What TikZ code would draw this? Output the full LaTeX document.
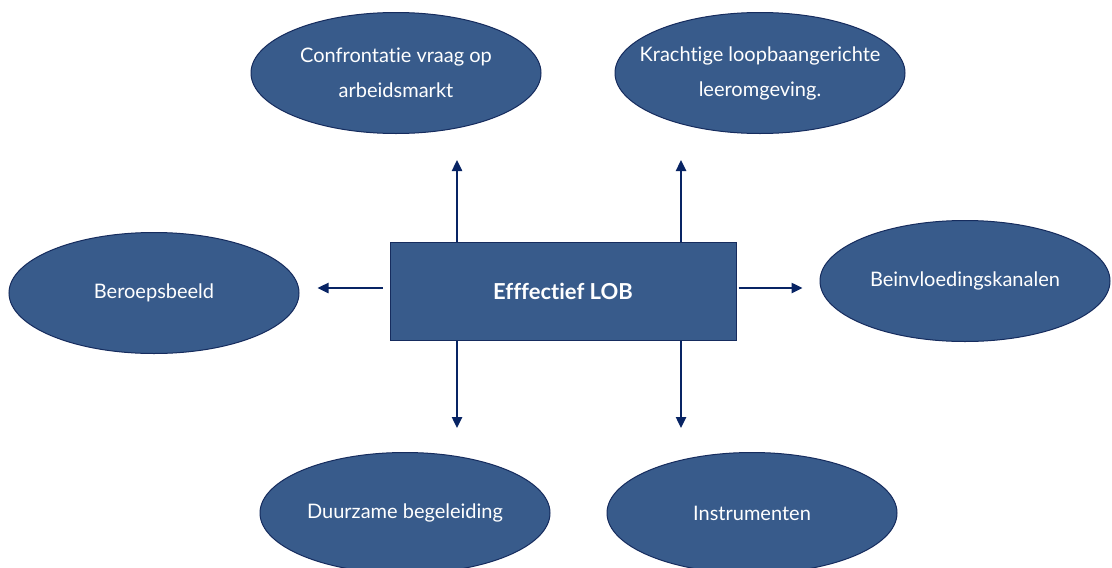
\documentclass[tikz,border=0pt]{standalone}
\usepackage{fontspec}
\setmainfont{Lato}[Ligatures=NoCommon]
\usetikzlibrary{shapes.geometric,arrows.meta}
\definecolor{lobfill}{RGB}{56,91,139}
\definecolor{lobedge}{RGB}{22,44,94}
\definecolor{lobarrow}{RGB}{8,36,100}
\tikzset{
  bubble/.style={ellipse, draw=lobedge, line width=1pt, fill=lobfill,
    minimum width=290pt, minimum height=121pt, inner ysep=0pt, inner xsep=-30pt,
    text=white, font=\fontsize{20}{35}\selectfont, align=center},
  arr/.style={draw=lobarrow, line width=2.4pt,
    -{Triangle[length=11pt,width=10pt]}}
}
\begin{document}
\begin{tikzpicture}[x=1pt,y=-1pt]
  \clip (0,0) rectangle (1112,568);
  \fill[white] (0,0) rectangle (1112,568);

  % Centre box
  \node[draw=lobedge, line width=1pt, fill=lobfill, minimum width=346pt,
    minimum height=98pt, text=white, font=\fontsize{22}{26}\selectfont\bfseries]
    (box) at (563,291) {Efffectief LOB};

  % Surrounding ellipses
  \node[bubble] (tl) at (396,73) {Confrontatie vraag op\\arbeidsmarkt};
  \node[bubble] (tr) at (760,73) {Krachtige loopbaangerichte\\leeromgeving.};
  \node[bubble] (l) at (154,293) {Beroepsbeeld};
  \node[bubble] (r) at (965,281) {Beinvloedingskanalen};
  \node[bubble] (bl) at (405,513) {Duurzame begeleiding};
  \node[bubble] (br) at (752,513) {Instrumenten};

  % Arrows
  \draw[arr, shorten >=26pt] (box.north -| 457,0) -- (tl.south -| 457,0);
  \draw[arr, shorten >=26pt] (box.north -| 681,0) -- (tr.south -| 681,0);
  \draw[arr, shorten >=24pt] (box.south -| 457,0) -- (bl.north -| 457,0);
  \draw[arr, shorten >=24pt] (box.south -| 681,0) -- (br.north -| 681,0);
  \draw[arr, shorten <=7pt, shorten >=18pt] (box.west |- 0,288) -- (l.east |- 0,288);
  \draw[arr, shorten <=2pt, shorten >=17pt] (box.east |- 0,288) -- (r.west |- 0,288);
\end{tikzpicture}
\end{document}
